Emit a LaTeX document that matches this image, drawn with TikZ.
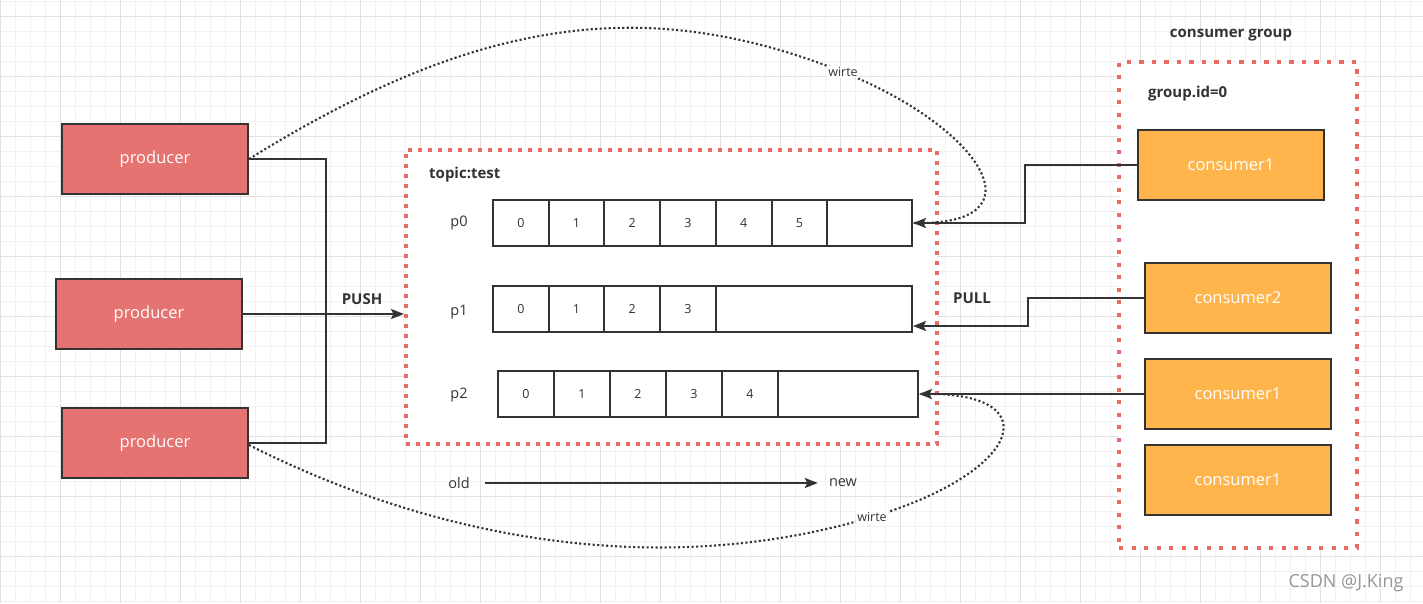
\documentclass[tikz,border=0pt]{standalone}
\usepackage{fontspec}
\setmainfont{Open Sans}
\usetikzlibrary{arrows.meta}
\definecolor{prodred}{RGB}{229,115,113}
\definecolor{consorange}{RGB}{255,181,76}
\definecolor{dotred}{RGB}{234,107,102}
\definecolor{ink}{RGB}{51,51,51}
\definecolor{gridminor}{RGB}{241,241,241}
\definecolor{gridmajor}{RGB}{225,225,225}
\tikzset{
  prodbox/.style={draw=ink, line width=2pt, fill=prodred, minimum width=186pt, minimum height=70pt, text=white, font=\fontsize{16.5}{19}\selectfont, inner sep=0pt},
  consbox/.style={draw=ink, line width=2pt, fill=consorange, minimum width=186pt, minimum height=70pt, text=white, font=\fontsize{16.5}{19}\selectfont, inner sep=0pt},
  cellbox/.style={draw=ink, line width=2pt, minimum height=46pt, font=\fontsize{12.5}{14}\selectfont, text=ink, inner sep=0pt},
  conn/.style={draw=ink, line width=2pt},
  arr/.style={-{Stealth[length=13pt,width=10pt,inset=2.5pt]}},
  wr/.style={draw=ink, line width=2.1pt, dash pattern=on 2.1pt off 2.4pt},
  redframe/.style={draw=dotred, line width=4pt, fill=white, inner sep=0pt},
  lbl/.style={text=ink, font=\fontsize{14.5}{17}\selectfont, inner sep=0pt},
  boldlbl/.style={text=ink, font=\bfseries\fontsize{15}{18}\selectfont, inner sep=0pt},
  wlbl/.style={text=ink, fill=white, font=\fontsize{12.5}{14}\selectfont, inner sep=1pt},
}
\begin{document}
\begin{tikzpicture}[x=1pt,y=-1pt]
\useasboundingbox (0,0) rectangle (1423,603);
\fill[white] (0,0) rectangle (1423,603);
% grid
\foreach \k in {0,...,95} \draw[gridminor, line width=1pt] ({\k*15+0.7},0) -- ({\k*15+0.7},603);
\foreach \k in {0,...,40} \draw[gridminor, line width=1pt] (0,{\k*15+1}) -- (1423,{\k*15+1});
\foreach \k in {0,...,23} \draw[gridmajor, line width=1pt] ({\k*60+0.7},0) -- ({\k*60+0.7},603);
\foreach \k in {0,...,10} \draw[gridmajor, line width=1pt] (0,{\k*60+16}) -- (1423,{\k*60+16});

% frames
\node[redframe, dash pattern=on 4pt off 6pt, minimum width=531pt, minimum height=294pt] (topic) at (671.5,297) {};
\node[redframe, dash pattern=on 4.3pt off 8.2pt, minimum width=238pt, minimum height=486pt] (group) at (1238,305) {};

% labels
\node[boldlbl, anchor=west] (topiclbl) at (429,175) {topic:test};
\node[boldlbl] (grouptitle) at (1231,35) {consumer group};
\node[boldlbl, anchor=west] (groupid) at (1148,94) {group.id=0};
\node[boldlbl] (push) at (362,299) {PUSH};
\node[boldlbl] (pull) at (972,298) {PULL};
\node[lbl] (lp0) at (459,223) {p0};
\node[lbl] (lp1) at (459,312) {p1};
\node[lbl] (lp2) at (459,395) {p2};

% producers
\node[prodbox] (pr1) at (155,159) {producer};
\node[prodbox] (pr2) at (149,314) {producer};
\node[prodbox] (pr3) at (155,443) {producer};

% consumers
\node[consbox] (c1) at (1231,165) {consumer1};
\node[consbox] (c2) at (1238,298) {consumer2};
\node[consbox] (c3) at (1238,394) {consumer1};
\node[consbox] (c4) at (1238,480) {consumer1};

% partitions
\foreach \i in {0,...,5} \node[cellbox, minimum width=55.7pt] (a\i) at ({493+55.7*\i+27.85},223) {\i};
\node[cellbox, minimum width=84.8pt] (a6) at (869.6,223) {};
\foreach \i in {0,...,3} \node[cellbox, minimum width=55.7pt] (b\i) at ({493+55.7*\i+27.85},309) {\i};
\node[cellbox, minimum width=196.2pt] (b4) at (813.9,309) {};
\foreach \i in {0,...,4} \node[cellbox, minimum width=56pt] (e\i) at ({498+56*\i+28},394) {\i};
\node[cellbox, minimum width=140pt] (e5) at (848,394) {};

% push connectors
\coordinate (j) at (326,314);
\draw[conn] (pr1.east) -| (j);
\draw[conn] (pr3.east) -| (j);
\draw[conn, arr] (pr2.east) -- (pr2.east -| topic.west);

% pull connectors
\coordinate (k1) at (1025,223);
\coordinate (k2) at (1028,326);
\draw[conn, arr] (c1.west) -| (k1) -- (a6.east);
\draw[conn, arr] (c2.west) -| (k2) -- (k2 -| b4.east);
\draw[conn, arr] (c3.west) -- (c3.west -| e5.east);

% write curves
\coordinate (w1) at (843,72);
\coordinate (w2) at (872,517);
\draw[wr] (pr1.east) .. controls (470,22) and (640,-9) .. (w1)
  .. controls (982,128) and (1045,226) .. (a6.east);
\draw[wr] ([yshift=-2pt]pr3.east) .. controls (449,546) and (672,577) .. (w2)
  .. controls (1025,471) and (1050,390) .. (e5.east);
\node[wlbl] (wl1) at (w1) {wirte};
\node[wlbl] (wl2) at (w2) {wirte};

% old -> new
\node[lbl] (old) at (459,483) {old};
\node[lbl] (new) at (843,483) {new};
\draw[conn, arr, shorten <=15pt, shorten >=11pt] (old.east) -- (new.west);

% watermark
\node[text={rgb,255:red,150;green,150;blue,150}, font=\fontsize{18}{20}\selectfont, inner sep=0pt] (wm) at (1346,583) {CSDN @J.King};
\end{tikzpicture}
\end{document}
